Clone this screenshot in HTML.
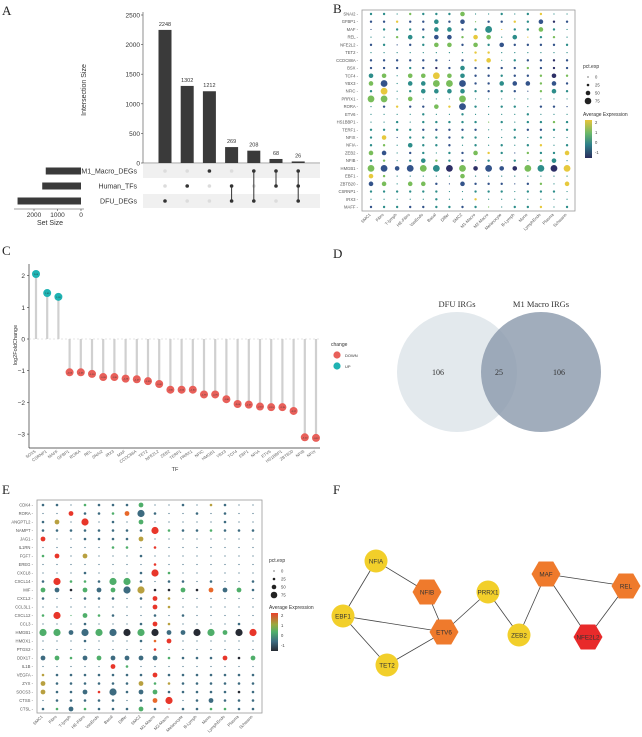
<!DOCTYPE html>
<html><head><meta charset="utf-8"><style>
html,body{margin:0;padding:0;background:#fff;}
svg{display:block;font-family:"Liberation Sans",sans-serif;}
.pl{font-family:"Liberation Serif",serif;font-size:13px;fill:#222;}
</style></head><body>
<svg id="fig" width="642" height="737" viewBox="0 0 642 737" xmlns="http://www.w3.org/2000/svg">
<text class="pl" x="2" y="15">A</text>
<text class="pl" x="333" y="13">B</text>
<text class="pl" x="2" y="255">C</text>
<text class="pl" x="333" y="258">D</text>
<text class="pl" x="2" y="494">E</text>
<text class="pl" x="333" y="494">F</text>
<g id="gA"></g>
<g id="gB"></g>
<g id="gC"></g>
<g id="gD"></g>
<g id="gE"></g>
<g id="gF"></g>
</svg>
<script>
// ===== Panel A data =====
const upsetCounts=[2248,1302,1212,269,208,68,26];
const upsetSets=["M1_Macro_DEGs","Human_TFs","DFU_DEGs"];
const setSizes=[1500,1650,2700];
const upsetMembership=[[2],[1],[0],[1,2],[0,2],[0,1],[0,1,2]];
const upsetTicks=[0,500,1000,1500,2000,2500];
const setTicks=[2000,1000,0];
// ===== Panel B data =====
const bRows=["SNAI2","GFBP1","MAF","REL","NFE2L2","TET2","CCDC88A","BSX","TCF4","YBX3","NFIC","PRRX1","RORA","ETV6","HS1BBP1","TERF1","NFIX","NFIA","ZEB2","NFIB","HMGB1","EBF1","ZBTB20","CSRNP1","IRX3","MAFF"];
const cellTypes=["SMC1","Fibro","T-lymph","HE-Fibro","VasEndo","Basal","Differ","SMC2","M1-Macro","M2-Macro","Melanocyte","B-Lymph","Mono","LymphEndo","Plasma","Schwann"];
const bSizes=["1101111200101100","1111121201111211","0111122113011210","0012122122020110","1101122121211111","0000000011000000","1111110112011111","1111111211111111","2202232211111121","2302233311222121","1301222211110121","3302000300000000","0111121310110110","0000100100001000","0010111110101111","1111111110011111","1201111110010100","1102111010101101","2201101121101112","1101211101010120","3323333323223333","2100000200000000","2202210211101102","1111110011101110","0000010010000000","1111111110011101"];
const bColors=["cccdcccdcccccecc","bbebbcbbdbbecbab","bcccbccbcceccdcc","ccdccbbdedccecdc","bcbbcddbdcbbbbbc","cccccccceecccccc","bbbbbbbbeeccbbab","bbbcbabcbbbbdbab","cdcddedcbbcbbdad","dbcccddbbbcbbdbb","cecccccccbcbbdcc","ddcdcccdcccccccc","cbebbdebcccccbbb","cccccccccccccccc","cccccccccdccccdc","ccccbbbbbcccbbcc","cebcccbccccccccc","cdccccbccccccecc","dbcbcccbdecbdcce","cdcccdcbccdccdcc","dbbbdcadabbadcae","edcccccdcccccccc","bdcddbbbbbbbbdce","cccccccccccccccc","cccccccceccccccc","bccbbccbcdcccecc"];
// ===== Panel C data =====
const cGenes=["SOX5","CSRNP1","MAFF","GFBP1","RORA","REL","SNAI2","IRX3","MAF","CCDC88A","TET2","NFE2L2","ZEB2","TERF1","PRRX1","NFIC","HMGB1","YBX3","TCF4","EBF1","NFIA","ETV6","HS1BBP1","ZBTB20","NFIB","NFIX"];
const cValues=[2.05,1.45,1.33,-1.05,-1.05,-1.1,-1.2,-1.2,-1.25,-1.27,-1.33,-1.42,-1.6,-1.6,-1.6,-1.75,-1.75,-1.9,-2.05,-2.07,-2.13,-2.15,-2.15,-2.27,-3.1,-3.12];
const cTicks=[2,1,0,-1,-2,-3];
// ===== Panel D data =====
const vennCounts=[106,25,106];
const vennSets=["DFU IRGs","M1 Macro IRGs"];
// ===== Panel E data =====
const eRows=["CDK4","RORA","ANGPTL2","NAMPT","JAG1","IL1RN","FGF7","EREG","CXCL8","CXCL14","MIF","CXCL2","CCL3L1","CXCL12","CCL3","HMGB1","HMOX1","PTGS2","DDX17","IL1B","VEGFA","ZYX","SOCS3","CTSS","CTSL"];
const eSizes=["1101111200101100","0021112310010100","1203010200000100","1111111131111111","2001111200000000","0000011010000000","1202000100000000","0000000010000000","0001000131000000","1311133101101001","2212223311212221","1001110121000000","0000000021000000","1302110010100000","0001000121000010","3323333332233233","0001000112000000","0000000010000000","2212222221111212","0000021000000000","1111111121111111","2111111211111111","2112131221111111","0111110123012111","1121111210111111"];
const eColors=["bbbcbbbcbbbbdbbb","bbebbcfbbbbbbbbb","bdbebbbcbbbbbbbb","bbbbbbbbecbbcbbb","ebbbbbbdbbbbbbbb","bbbbbccbebbbbbbb","cebdbbbbbbbbbbbb","bbbbbbbbebbbbbbb","bbbbbbbbecbbbbbb","beccbccbbbbbbbbb","cbacbcbdaacafbcb","bbbbbbbbedbbbbbb","bbbbbbbbedbbbbbb","cecccbbbbbbbbbbb","bbbbbbbbedbbbbbb","ccbbcbacabbaccae","bbbbbbbbfebbbbbb","bbbbbbbbebbbbbbb","bccbcbbbbcbbbeac","bbbbbecbbbbbbbbb","dbbbbbbbebbbbbbb","dbbbbbbdcdbbbbbb","dbbbebbbcbbbbbab","bbbbbbbbfebbbbbb","bcbcbbbcbebbccbb"];
// ===== Panel F data =====
const fNodes=["NFIA","NFIB","EBF1","ETV6","TET2","PRRX1","ZEB2","MAF","REL","NFE2L2"];
const fEdges=[["NFIA","EBF1"],["NFIA","NFIB"],["NFIB","ETV6"],["EBF1","ETV6"],["EBF1","TET2"],["TET2","ETV6"],["ETV6","PRRX1"],["PRRX1","ZEB2"],["ZEB2","MAF"],["MAF","REL"],["MAF","NFE2L2"],["REL","NFE2L2"]];

const NS="http://www.w3.org/2000/svg";
function mk(parent,tag,attrs,txt){const e=document.createElementNS(NS,tag);for(const k in attrs)e.setAttribute(k,attrs[k]);if(txt!==undefined)e.textContent=txt;parent.appendChild(e);return e;}

// ---------- A ----------
(function(){
const g=document.getElementById('gA');
const y0=163,yTop=15,ax=143;
const ys=v=>y0-(v/2500)*(y0-yTop);
const xs=i=>165+i*22.2;
const rowY=[171,186,201];
[0,2].forEach(r=>{const b=mk(g,'rect',{x:ax,y:rowY[r]-7,width:177,height:14,fill:'#f0f0f0'});
});
mk(g,'line',{x1:ax,y1:yTop-3,x2:ax,y2:y0,stroke:'#444','stroke-width':0.6});
mk(g,'line',{x1:ax,y1:y0,x2:320,y2:y0,stroke:'#444','stroke-width':0.6});
upsetTicks.forEach(t=>{mk(g,'line',{x1:ax-2,y1:ys(t),x2:ax,y2:ys(t),stroke:'#444','stroke-width':0.6});
const l=mk(g,'text',{x:ax-3,y:ys(t)+2.5,'font-size':6.5,'text-anchor':'end',fill:'#333'},t);
});
const yt=mk(g,'text',{x:86,y:90,'font-size':7,'text-anchor':'middle',fill:'#333',transform:'rotate(-90 86 90)'},'Intersection Size');

upsetCounts.forEach((v,i)=>{
const b=mk(g,'rect',{x:xs(i)-6.5,y:ys(v),width:13,height:y0-ys(v),fill:'#3a3a3a'});

const l=mk(g,'text',{x:xs(i),y:ys(v)-4,'font-size':5.5,'text-anchor':'middle',fill:'#333'},v);

const mem=upsetMembership[i];
[0,1,2].forEach(r=>{const c=mk(g,'circle',{cx:xs(i),cy:rowY[r],r:1.8,fill:mem.includes(r)?'#333':'#dcdcdc'});
});
if(mem.length>1){const ysel=mem.map(r=>rowY[r]);mk(g,'line',{x1:xs(i),y1:Math.min(...ysel),x2:xs(i),y2:Math.max(...ysel),stroke:'#333','stroke-width':1});}
});
const sx=v=>81-v*0.0235;
upsetSets.forEach((s,r)=>{
const b=mk(g,'rect',{x:sx(setSizes[r]),y:rowY[r]-3.5,width:81-sx(setSizes[r]),height:7,fill:'#3a3a3a'});

const l=mk(g,'text',{x:137,y:rowY[r]+2.5,'font-size':7,'text-anchor':'end',fill:'#333'},s);
});
mk(g,'line',{x1:14,y1:209,x2:84,y2:209,stroke:'#444','stroke-width':0.6});
setTicks.forEach(t=>{mk(g,'line',{x1:sx(t),y1:209,x2:sx(t),y2:211,stroke:'#444','stroke-width':0.6});
const l=mk(g,'text',{x:sx(t),y:217,'font-size':6.5,'text-anchor':'middle',fill:'#333'},t);
});
const st=mk(g,'text',{x:50,y:225,'font-size':7,'text-anchor':'middle',fill:'#333'},'Set Size');

})();

// ---------- dot plot helper ----------
function dotplot(g,rows,sizes,colors,pal,box,x0,dx,y0,dy,rads,legend){
mk(g,'rect',{x:box[0],y:box[1],width:box[2],height:box[3],fill:'none',stroke:'#999','stroke-width':0.8});
rows.forEach((r,i)=>{const y=y0+i*dy;
const l=mk(g,'text',{x:box[0]-4,y:y+1.5,'font-size':4.2,'text-anchor':'end',fill:'#555'},r+' -');

for(let j=0;j<cellTypes.length;j++){const s=+sizes[i].charAt(j)||0;const c=colors[i].charAt(j)||'c';
const d=mk(g,'circle',{cx:x0+j*dx,cy:y,r:rads[s],fill:pal[c]||pal.c});
}});
cellTypes.forEach((c,j)=>{const x=x0+j*dx,y=box[1]+box[3]+4;
const l=mk(g,'text',{x:x,y:y,'font-size':4.2,'text-anchor':'end',fill:'#555',transform:`rotate(-45 ${x} ${y})`},c);
});
const [lx,ly,cby,grad]=legend;
const t1=mk(g,'text',{x:lx,y:ly,'font-size':5,fill:'#333'},'pct.exp');

[0,25,50,75].forEach((v,k)=>{mk(g,'circle',{cx:lx+5,cy:ly+9+k*8,r:[0.6,1.3,2.3,3.3][k],fill:'#222'});
const l=mk(g,'text',{x:lx+12,y:ly+10.5+k*8,'font-size':4.2,fill:'#444'},v);
});
const t2=mk(g,'text',{x:lx,y:cby-4,'font-size':5,fill:'#333'},'Average Expression');

const cb=mk(g,'rect',{x:lx+2,y:cby,width:7,height:38,fill:grad});

['2','1','0','-1'].forEach((v,k)=>{const l=mk(g,'text',{x:lx+12,y:cby+4+k*10,'font-size':4.2,fill:'#444'},v);
});
}
const defs=mk(document.getElementById('fig'),'defs',{});
const gv=mk(defs,'linearGradient',{id:'vir',x1:0,y1:0,x2:0,y2:1});
[['0','#e8c53a'],['0.35','#6ab86a'],['0.65','#2e7f8a'],['1','#2b2d5c']].forEach(s=>mk(gv,'stop',{offset:s[0],'stop-color':s[1]}));
const ge=mk(defs,'linearGradient',{id:'rgb',x1:0,y1:0,x2:0,y2:1});
[['0','#e8402a'],['0.3','#9aa840'],['0.5','#4fae6a'],['0.75','#3d6b80'],['1','#262a33']].forEach(s=>mk(ge,'stop',{offset:s[0],'stop-color':s[1]}));

dotplot(document.getElementById('gB'),bRows,bSizes,bColors,
{a:'#2d2f66',b:'#33538a',c:'#2d8d8a',d:'#79bd5a',e:'#e7c93d'},
[362,10,213,201],371,13.07,14,7.72,[0.6,1.2,2.3,3.4],[583,68,120,'url(#vir)']);
dotplot(document.getElementById('gE'),eRows,eSizes,eColors,
{a:'#262a33',b:'#3d6b80',c:'#4fae6a',d:'#b8a040',e:'#e8362a',f:'#e8682a'},
[37,500,225,213],43,14,505,8.5,[0.6,1.3,2.4,3.6],[269,562,613,'url(#rgb)']);

// ---------- C ----------
(function(){
const g=document.getElementById('gC');
const ys=v=>339-v*31.7;const xs=i=>36+i*11.2;
mk(g,'line',{x1:29,y1:264,x2:29,y2:448,stroke:'#333','stroke-width':0.7});
mk(g,'line',{x1:29,y1:448,x2:320,y2:448,stroke:'#333','stroke-width':0.7});
mk(g,'line',{x1:29,y1:ys(0),x2:320,y2:ys(0),stroke:'#ccc','stroke-width':0.6,'stroke-dasharray':'2,2'});
cTicks.forEach(t=>{mk(g,'line',{x1:27,y1:ys(t),x2:29,y2:ys(t),stroke:'#333','stroke-width':0.6});
const l=mk(g,'text',{x:25,y:ys(t)+2.5,'font-size':6.5,'text-anchor':'end',fill:'#333'},t<0?'−'+(-t):t);
});
cValues.forEach((v,i)=>{
const st=mk(g,'line',{x1:xs(i),y1:ys(0),x2:xs(i),y2:ys(v),stroke:'#d0d0d0','stroke-width':2.2});

const d=mk(g,'circle',{cx:xs(i),cy:ys(v),r:4,fill:v>0?'#1fb3b3':'#e8605a'});

mk(g,'text',{x:xs(i),y:ys(v)+1,'font-size':2.2,'text-anchor':'middle',fill:'#333'},v.toFixed(2));
const x=xs(i),y=452;
const l=mk(g,'text',{x:x,y:y,'font-size':4.2,'text-anchor':'end',fill:'#666',transform:`rotate(-35 ${x} ${y})`},cGenes[i]);
});
const yt=mk(g,'text',{x:17,y:345,'font-size':5.5,'text-anchor':'middle',fill:'#333',transform:'rotate(-90 17 345)'},'log2FoldChange');

const xt=mk(g,'text',{x:175,y:471,'font-size':5.5,'text-anchor':'middle',fill:'#333'},'TF');

const lt=mk(g,'text',{x:331,y:346,'font-size':5,fill:'#333'},'change');

[['DOWN','#e8605a',355],['UP','#1fb3b3',366]].forEach(e=>{mk(g,'circle',{cx:337,cy:e[2],r:3.6,fill:e[1]});
const l=mk(g,'text',{x:345,y:e[2]+1.8,'font-size':4,fill:'#333'},e[0]);
});
})();

// ---------- D ----------
(function(){
const g=document.getElementById('gD');
const c1=mk(g,'circle',{cx:457,cy:372,r:60,fill:'#e3e9ed'});

const c2=mk(g,'circle',{cx:541,cy:372,r:60,fill:'#8a99ab','fill-opacity':0.8});

[[457,vennSets[0]],[541,vennSets[1]]].forEach(s=>{const l=mk(g,'text',{x:s[0],y:307,'font-size':8.5,'text-anchor':'middle',fill:'#333','font-family':'Liberation Serif,serif'},s[1]);
});
[438,499,559].forEach((x,i)=>{const l=mk(g,'text',{x:x,y:375,'font-size':8,'text-anchor':'middle',fill:'#333','font-family':'Liberation Serif,serif'},vennCounts[i]);
});
})();

// ---------- F ----------
(function(){
const g=document.getElementById('gF');
const pos={NFIA:[376,561],NFIB:[427,592],EBF1:[343,616],ETV6:[444,632],TET2:[387,665],PRRX1:[488,592],ZEB2:[519,635],MAF:[546,574],REL:[626,586],NFE2L2:[588,637]};
const shape={NFIA:'c',NFIB:'h',EBF1:'c',ETV6:'h',TET2:'c',PRRX1:'c',ZEB2:'c',MAF:'h',REL:'h',NFE2L2:'h'};
const col={NFIA:'#f2cf2a',NFIB:'#ef7a2c',EBF1:'#f2cf2a',ETV6:'#ef7a2c',TET2:'#f2cf2a',PRRX1:'#f2cf2a',ZEB2:'#f2cf2a',MAF:'#ef7a2c',REL:'#ef7a2c',NFE2L2:'#e82a2a'};
fEdges.forEach(e=>{const a=pos[e[0]],b=pos[e[1]];
const l=mk(g,'line',{x1:a[0],y1:a[1],x2:b[0],y2:b[1],stroke:'#444','stroke-width':0.8});
});
fNodes.forEach(n=>{const [x,y]=pos[n];let el;
if(shape[n]==='c'){el=mk(g,'circle',{cx:x,cy:y,r:11.5,fill:col[n]});}
else{const w=14.5,h=12.5;el=mk(g,'polygon',{points:`${x-w},${y} ${x-w/2},${y-h} ${x+w/2},${y-h} ${x+w},${y} ${x+w/2},${y+h} ${x-w/2},${y+h}`,fill:col[n]});}

const l=mk(g,'text',{x:x,y:y+2.3,'font-size':6.3,'text-anchor':'middle',fill:'#333'},n);
});
})();
</script>
</body></html>
